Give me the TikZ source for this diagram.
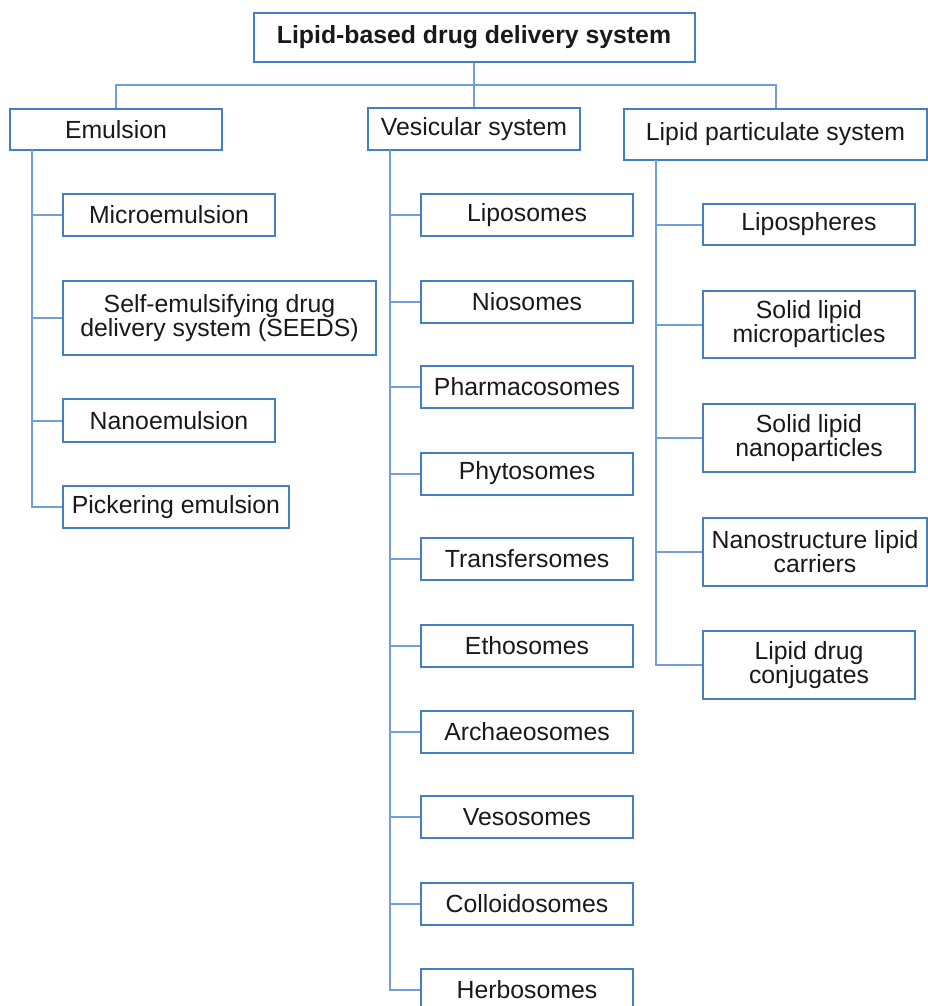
\documentclass[tikz,border=0pt]{standalone}
\usepackage{fontspec}
\setmainfont{Liberation Sans}
\definecolor{boxblue}{RGB}{68,126,196}
\definecolor{lineblue}{RGB}{112,160,214}
\begin{document}
\begin{tikzpicture}[x=1pt,y=-1pt,
  box/.style={draw=boxblue,line width=2pt,rectangle,inner sep=0pt,align=center,
    font=\fontsize{24.8}{24}\selectfont,text=black!90},
  conn/.style={draw=lineblue,line width=2pt}]
\useasboundingbox (0,0) rectangle (928,1006);
\clip (0,0) rectangle (928,1006);
% top
\node[box,font=\fontsize{24.8}{24}\selectfont\bfseries,minimum width=441pt,minimum height=49pt] (top) at (474,37.5) {Lipid-based drug delivery system};
% level 1
\node[box,minimum width=212pt,minimum height=41pt] (emu) at (116,129.5) {Emulsion};
\node[box,minimum width=212pt,minimum height=42pt] (ves) at (474,129) {Vesicular system};
\node[box,minimum width=303pt,minimum height=50pt] (lps) at (775.5,134.5) {Lipid particulate system};
\coordinate (bar) at (474,85);
\draw[conn] (top.south) -- (ves.north);
\draw[conn] (emu.north) |- (bar) -| (lps.north);
% emulsion children
\node[box,minimum width=212pt,minimum height=42pt] (e1) at (169,215) {Microemulsion};
\node[box,minimum width=313pt,minimum height=74pt] (e2) at (219.5,318) {Self-emulsifying drug\\delivery system (SEEDS)};
\node[box,minimum width=212pt,minimum height=43pt] (e3) at (169,420.5) {Nanoemulsion};
\node[box,minimum width=226pt,minimum height=42pt] (e4) at (176,507) {Pickering emulsion};
\coordinate (et) at (32,150);
\draw[conn] (et) |- (e4.west);
\foreach \n in {e1,e2,e3} \draw[conn] (\n.west) -- (\n.west -| et);
% vesicular children
\foreach \n/\y/\t in {v1/215/Liposomes,v2/302/Niosomes,v3/387/Pharmacosomes,v4/473.5/Phytosomes,v5/559/Transfersomes,v6/645.5/Ethosomes,v7/731.5/Archaeosomes,v8/817/Vesosomes,v9/903.5/Colloidosomes,v10/989.5/Herbosomes}
  \node[box,minimum width=212pt,minimum height=42pt] (\n) at (527,\y) {\t};
\coordinate (vt) at (390,150);
\draw[conn] (vt) |- (v10.west);
\foreach \n in {v1,v2,v3,v4,v5,v6,v7,v8,v9} \draw[conn] (\n.west) -- (\n.west -| vt);
% lipid particulate children
\node[box,minimum width=212pt,minimum height=41pt] (l1) at (809,224.5) {Lipospheres};
\node[box,minimum width=212pt,minimum height=67pt] (l2) at (809,324.5) {Solid lipid\\microparticles};
\node[box,minimum width=212pt,minimum height=68pt] (l3) at (809,438) {Solid lipid\\nanoparticles};
\node[box,minimum width=224pt,minimum height=68pt] (l4) at (815,552) {Nanostructure lipid\\carriers};
\node[box,minimum width=212pt,minimum height=68pt] (l5) at (809,665) {Lipid drug\\conjugates};
\coordinate (lt) at (656,159.5);
\draw[conn] (lt) |- (l5.west);
\foreach \n in {l1,l2,l3,l4} \draw[conn] (\n.west) -- (\n.west -| lt);
\end{tikzpicture}
\end{document}
